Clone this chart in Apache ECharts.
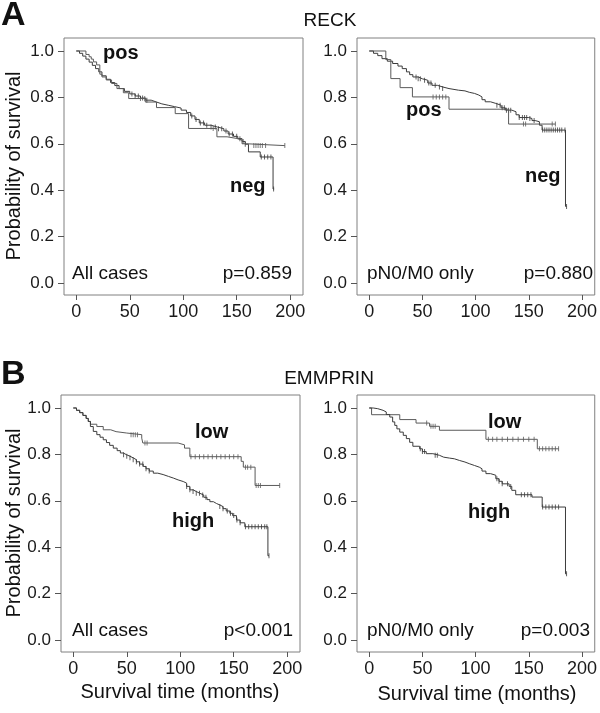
<!DOCTYPE html>
<html><head><meta charset="utf-8">
<script src="https://cdn.jsdelivr.net/npm/echarts@6/dist/echarts.min.js"></script>
<style>html,body{margin:0;padding:0;background:#fff}#c{width:600px;height:713px}</style>
</head><body><div id="c"></div>
<script>
// ---- tick values ----
const xTicks = [0, 50, 100, 150, 200];
const yTicks = [0, 0.2, 0.4, 0.6, 0.8, 1.0];

// ---- RECK, all cases ----
const reckAllNeg = [[0,1],[3,0.99],[6,0.978],[9,0.965],[12,0.952],[15,0.938],[18,0.924],[21,0.91],[24,0.893],[28,0.878],[32,0.864],[36,0.851],[40,0.838],[45,0.826],[50,0.815],[55,0.806],[60,0.797],[65,0.788],[70,0.78],[75,0.772],[80,0.766],[86,0.76],[92,0.754],[98,0.745],[103,0.735],[107,0.72],[111,0.705],[115,0.69],[120,0.68],[126,0.672],[132,0.665],[138,0.655],[142,0.642],[147,0.632],[151,0.622],[155,0.61],[158,0.598],[161,0.565],[172,0.543],[184,0.405],[185,0.405]];
const reckAllNegCens = [52,55,58,62,66,108,112,116,119,122,126,130,133,136,140,143,146,150,153,156,158,173,176,179,182,184.5];
const reckAllPos = [[0,1],[9,0.985],[12,0.975],[14,0.965],[16,0.953],[19,0.94],[22,0.9],[24,0.888],[28,0.875],[33,0.86],[38,0.838],[44,0.82],[49,0.795],[64.5,0.78],[75,0.756],[92.5,0.73],[105,0.666],[131.5,0.63],[141,0.623],[150,0.616],[155,0.6],[159.5,0.592],[195,0.592]];
const reckAllPosCens = [60,64,128,166,168,170,172,174,177,195];

// ---- RECK, pN0/M0 only ----
const reckN0Neg = [[0,1],[4,0.99],[8,0.98],[12,0.967],[17,0.956],[22,0.946],[27,0.935],[31,0.924],[35,0.91],[38,0.898],[41,0.888],[46,0.88],[50,0.874],[55,0.862],[59,0.852],[64,0.845],[69,0.838],[75,0.831],[84,0.828],[90,0.822],[94,0.817],[99,0.81],[103,0.802],[106,0.79],[109,0.781],[114,0.774],[119,0.766],[124,0.755],[128,0.745],[134,0.738],[138,0.725],[141,0.713],[150,0.709],[153,0.7],[156,0.695],[160,0.68],[162.5,0.659],[184.5,0.33],[185.5,0.33]];
const reckN0NegCens = [44,46,48,52,56,58,62,66,69,120,123,125,127,129,131,133,141,144,146,148,151,155,163,165,167,169,171,173,175,177,179,181,184,185.5];
const reckN0Pos = [[0,1],[15.6,0.963],[20.3,0.881],[29,0.842],[40.6,0.802],[75,0.749],[131,0.685],[175,0.685]];
const reckN0PosCens = [60,63,66,69,72,145,147,172,175];

// ---- EMMPRIN, all cases ----
const emmAllLow = [[0,1],[3,0.99],[6,0.98],[9,0.968],[12,0.955],[14,0.942],[16,0.93],[22,0.92],[28,0.906],[35,0.898],[40,0.892],[50,0.885],[64,0.87],[65,0.849],[98,0.841],[104,0.827],[109,0.79],[157,0.77],[159,0.745],[170,0.666],[193,0.666]];
const emmAllLowCens = [54,56,58,60,67,69,110,114,118,122,126,130,134,138,142,146,150,154,161,163,166,171,173,175,193];
const emmAllHigh = [[0,1],[3,0.99],[6,0.98],[9,0.968],[12,0.955],[14,0.942],[16,0.92],[18.7,0.899],[22,0.885],[25,0.874],[28,0.863],[31,0.851],[34,0.839],[37.4,0.827],[41,0.816],[44,0.806],[46.7,0.798],[50,0.792],[53,0.785],[56,0.777],[59,0.768],[62,0.758],[65.4,0.748],[68,0.738],[71,0.728],[74.8,0.719],[79,0.713],[84,0.705],[89,0.698],[93.5,0.69],[98,0.683],[102.8,0.676],[106,0.662],[109,0.647],[112,0.64],[115,0.632],[118.4,0.625],[122,0.615],[125,0.605],[127.7,0.596],[131,0.588],[134,0.582],[137,0.575],[140,0.566],[143,0.556],[146.4,0.546],[149,0.536],[152.6,0.517],[156,0.505],[160.4,0.488],[182,0.363],[183,0.363]];
const emmAllHighCens = [47,50,53,56,59,62,65,68,71,106,109,112,115,118,121,124,137,140,144,147,150,153,156,161,164,167,170,173,176,179,181,183];

// ---- EMMPRIN, pN0/M0 only ----
const emmN0Low = [[0,1],[2.2,0.971],[28.7,0.95],[44,0.935],[56.7,0.921],[66,0.904],[109.7,0.865],[158,0.824],[178,0.824]];
const emmN0LowCens = [54,58,60,62,112,116,120,125,130,135,140,145,150,155,160,163,166,169,172,175,178];
const emmN0High = [[0,1],[3.7,0.997],[8,0.99],[13,0.983],[16,0.972],[19.3,0.961],[22,0.94],[24,0.925],[26,0.91],[28.7,0.896],[32,0.882],[34.9,0.868],[38,0.852],[41,0.835],[47.4,0.824],[50,0.812],[53.6,0.803],[59.8,0.796],[66,0.788],[70,0.784],[75.4,0.781],[80,0.774],[84.7,0.767],[90,0.76],[94,0.752],[99,0.745],[103.4,0.738],[106,0.728],[109.7,0.717],[114,0.71],[119,0.695],[122,0.684],[125,0.673],[131.5,0.662],[134,0.645],[137.7,0.626],[153,0.616],[162.6,0.573],[184.5,0.285],[185.5,0.285]];
const emmN0HighCens = [48,50,52,62,64,120,122,125,130,133,143,146,149,152,163,166,169,172,175,178,185.5];

// ---- layout ----
const FONT = '"Liberation Sans", Arial, Helvetica, sans-serif';
const grids = [
  {left: 64, top: 38, width: 239, height: 257},
  {left: 357, top: 38, width: 240, height: 257},
  {left: 61, top: 395, width: 239, height: 257},
  {left: 357, top: 395, width: 240, height: 257}
];
const panels = [
  [{d: reckAllNeg, c: reckAllNegCens, col: '#3c3c3c'}, {d: reckAllPos, c: reckAllPosCens, col: '#5a5a5a'}],
  [{d: reckN0Neg, c: reckN0NegCens, col: '#3c3c3c'}, {d: reckN0Pos, c: reckN0PosCens, col: '#5a5a5a'}],
  [{d: emmAllLow, c: emmAllLowCens, col: '#5a5a5a'}, {d: emmAllHigh, c: emmAllHighCens, col: '#3c3c3c'}],
  [{d: emmN0Low, c: emmN0LowCens, col: '#5a5a5a'}, {d: emmN0High, c: emmN0HighCens, col: '#3c3c3c'}]
];
function survAt(curve, t) {
  let s = curve[0][1];
  for (const p of curve) { if (p[0] <= t) s = p[1]; else break; }
  return s;
}

const xAxes = [], yAxes = [], series = [];
grids.forEach((g, i) => {
  xAxes.push({
    type: 'value', gridIndex: i, min: -11.5, max: 212,
    axisLine: {show: false, onZero: false},
    axisTick: {show: true, length: 5, customValues: xTicks, lineStyle: {color: '#555'}},
    axisLabel: {customValues: xTicks, fontSize: 18, fontFamily: FONT, color: '#1a1a1a', margin: 8},
    splitLine: {show: false}
  });
  yAxes.push({
    type: 'value', gridIndex: i, min: -0.052, max: 1.056,
    axisLine: {show: false, onZero: false},
    axisTick: {show: true, length: 6, customValues: yTicks, lineStyle: {color: '#555'}},
    axisLabel: {customValues: yTicks, fontSize: 17, fontFamily: FONT, color: '#1a1a1a', margin: 10,
      formatter: v => v.toFixed(1)},
    splitLine: {show: false}
  });
  panels[i].forEach(cv => {
    series.push({
      type: 'line', xAxisIndex: i, yAxisIndex: i, step: 'end', data: cv.d,
      showSymbol: false, lineStyle: {width: 1, color: cv.col}, silent: true, animation: false
    });
    series.push({
      type: 'scatter', xAxisIndex: i, yAxisIndex: i, symbol: 'rect', symbolSize: [1, 5],
      data: cv.c.map(t => [t, survAt(cv.d, t)]),
      itemStyle: {color: cv.col}, silent: true, animation: false
    });
  });
});

function txt(text, x, y, size, opts) {
  opts = opts || {};
  return {
    type: 'text', x: x, y: y, rotation: opts.rot || 0, silent: true,
    style: {
      text: text, fill: '#111',
      font: (opts.bold ? 'bold ' : '') + size + 'px ' + FONT,
      textAlign: opts.align || 'left', textVerticalAlign: 'middle'
    }
  };
}
const graphics = [
  txt('A', 1, 16, 34, {bold: true}),
  txt('B', 1, 375, 34, {bold: true}),
  txt('RECK', 330, 21, 19, {align: 'center'}),
  txt('EMMPRIN', 329, 379, 19, {align: 'center'}),
  txt('Probability of survival', 14, 166, 20, {align: 'center', rot: Math.PI / 2}),
  txt('Probability of survival', 14, 523, 20, {align: 'center', rot: Math.PI / 2}),
  txt('Survival time (months)', 180, 692, 20, {align: 'center'}),
  txt('Survival time (months)', 477, 694, 20, {align: 'center'}),
  // panel A left
  txt('pos', 103, 53, 20, {bold: true}),
  txt('neg', 230, 186, 20, {bold: true}),
  txt('All cases', 72, 274, 19),
  txt('p=0.859', 292, 274, 19, {align: 'right'}),
  // panel A right
  txt('pos', 406, 110, 20, {bold: true}),
  txt('neg', 525, 176, 20, {bold: true}),
  txt('pN0/M0 only', 367, 274, 19),
  txt('p=0.880', 593, 274, 19, {align: 'right'}),
  // panel B left
  txt('low', 195, 432, 20, {bold: true}),
  txt('high', 172, 521, 20, {bold: true}),
  txt('All cases', 72, 631, 19),
  txt('p<0.001', 293, 631, 19, {align: 'right'}),
  // panel B right
  txt('low', 488, 422, 20, {bold: true}),
  txt('high', 468, 512, 20, {bold: true}),
  txt('pN0/M0 only', 367, 631, 19),
  txt('p=0.003', 590, 631, 19, {align: 'right'})
];

const chart = echarts.init(document.getElementById('c'), null, {renderer: 'canvas'});
chart.setOption({
  animation: false,
  backgroundColor: '#fff',
  grid: grids.map(g => Object.assign({show: true, borderColor: '#808080', borderWidth: 1, backgroundColor: 'transparent'}, g)),
  xAxis: xAxes,
  yAxis: yAxes,
  series: series,
  graphic: graphics
});
</script>
</body></html>
